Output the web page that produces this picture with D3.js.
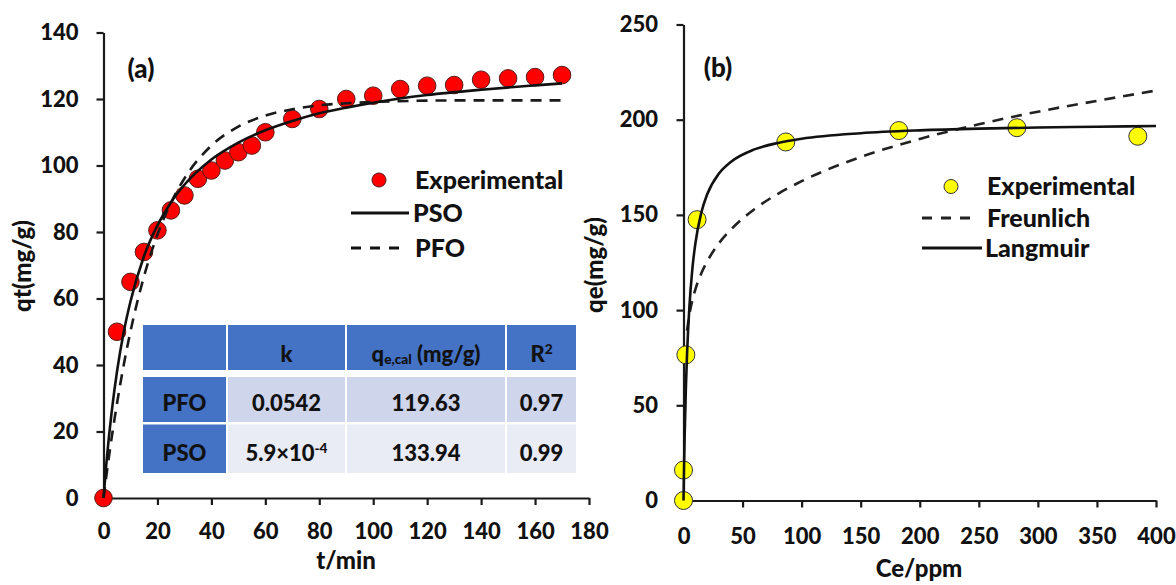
<!DOCTYPE html>
<html>
<head>
<meta charset="utf-8">
<script src="https://cdn.jsdelivr.net/npm/d3@7"></script>
<style>
  body { margin: 0; background: #fff; }
  svg { display: block; font-family: Lato, "Open Sans", sans-serif; font-weight: 900; }
  .axis path, .axis line { stroke: #1a1a1a; stroke-width: 2.2; }
  .axis text { font-family: Lato, sans-serif; font-size: 22px; font-weight: 900; fill: #111; }
</style>
</head>
<body>
<svg id="chart"></svg>
<script>
const width = 1176, height = 585;

// ---- panel (a): kinetics ----
const timeMin = [0, 5, 10, 15, 20, 25, 30, 35, 40, 45, 50, 55, 60, 70, 80, 90, 100, 110, 120, 130, 140, 150, 160, 170];
const qtExp = [0, 50, 65, 74, 80.5, 86.5, 91, 96, 98.5, 101.5, 104, 106, 110, 114, 117, 120, 121, 123, 124, 124.2, 125.8, 126.2, 126.6, 127.2];

const fitTime = [0, 1, 2, 3, 4, 5, 7.5, 10, 15, 20, 25, 30, 40, 50, 60, 70, 80, 90, 100, 120, 140, 160, 170];
const qtPSO = [0, 9.8, 18.3, 25.7, 32.2, 38.0, 49.9, 59.1, 72.7, 82.0, 88.9, 94.2, 101.8, 106.9, 110.6, 113.4, 115.7, 117.4, 118.9, 121.2, 122.8, 124.1, 124.7];
const qtPFO = [0, 6.3, 12.3, 18.0, 23.3, 28.4, 40.0, 50.1, 66.6, 79.2, 88.8, 96.1, 106.0, 111.7, 115.0, 116.9, 118.1, 118.7, 119.1, 119.5, 119.6, 119.6, 119.6];

const tTicks = [0, 20, 40, 60, 80, 100, 120, 140, 160, 180];
const qtTicks = [0, 20, 40, 60, 80, 100, 120, 140];

const tableHeader = ["", "k", "q_{e,cal} (mg/g)", "R^{2}"];
const tableModels = ["PFO", "PSO"];
const tableK = ["0.0542", "5.9×10^{-4}"];
const tableQe = ["119.63", "133.94"];
const tableR2 = ["0.97", "0.99"];

// ---- panel (b): isotherm ----
const ceExp = [0, 0, 2, 11.5, 86.6, 182.3, 282.2, 384.6];
const qeExp = [0, 16, 76.5, 147.5, 188.3, 194.3, 195.8, 191.3];

const ceLang = [0, 0.5, 1, 2, 3, 4, 5, 7.5, 10, 15, 20, 30, 40, 60, 80, 100, 150, 200, 250, 300, 350, 400];
const qeLang = [0, 18.9, 34.5, 58.9, 76.9, 90.8, 101.9, 121.7, 134.8, 151.0, 160.7, 171.7, 177.8, 184.4, 187.8, 190.0, 192.9, 194.4, 195.3, 195.9, 196.3, 196.7];

const ceFreund = [3, 5, 7.5, 10, 15, 20, 30, 40, 60, 80, 100, 150, 200, 250, 300, 350, 400];
const qeFreund = [89.2, 97.8, 105.2, 110.8, 119.2, 125.5, 135.1, 142.2, 153.0, 161.1, 167.7, 180.4, 189.9, 197.6, 204.2, 209.9, 215.3];

const ceTicks = [0, 50, 100, 150, 200, 250, 300, 350, 400];
const qeTicks = [0, 50, 100, 150, 200, 250];

const DASH = "11,8";

const svg = d3.select("#chart")
    .attr("width", width)
    .attr("height", height)
    .attr("viewBox", [0, 0, width, height]);

function drawAxes(x, y, xTicks, yTicks, xPad, yPad) {
    svg.append("g")
        .attr("class", "axis")
        .attr("transform", `translate(0,${y(0)})`)
        .call(d3.axisBottom(x).tickValues(xTicks).tickSize(7).tickSizeOuter(0).tickPadding(xPad))
        .call(g => g.attr("font-size", null).attr("font-family", null));

    svg.append("g")
        .attr("class", "axis")
        .attr("transform", `translate(${x(0)},0)`)
        .call(d3.axisLeft(y).tickValues(yTicks).tickSize(7).tickSizeOuter(0).tickPadding(yPad))
        .call(g => g.attr("font-size", null).attr("font-family", null));
}

function label(txt, x, y, size, rotate) {
    svg.append("text")
        .attr("transform", `translate(${x},${y})` + (rotate ? " rotate(-90)" : ""))
        .attr("text-anchor", "middle")
        .attr("font-size", size)
        .attr("fill", "#111")
        .text(txt);
}

// rich text with _{sub} and ^{sup}
function richText(sel, str, size) {
    const parts = str.split(/([_^]\{[^}]*\})/).filter(s => s.length);
    parts.forEach(p => {
        if (p[0] === "_" || p[0] === "^") {
            const sub = p[0] === "_";
            sel.append("tspan")
                .attr("font-size", size * 0.62)
                .attr("baseline-shift", sub ? "-12%" : "55%")
                .text(p.slice(2, -1));
        } else {
            sel.append("tspan").text(p);
        }
    });
}

const line = (x, y) => d3.line().x(d => x(d[0])).y(d => y(d[1])).curve(d3.curveMonotoneX);

// ================= panel (a) =================
const xA = d3.scaleLinear().domain([0, 180]).range([103.5, 589]);
const yA = d3.scaleLinear().domain([0, 140]).range([498, 32.5]);

drawAxes(xA, yA, tTicks, qtTicks, 18, 18);

// table
const colEdges = [143, 227, 346, 506, 577];
const rows = [
    {y: 325, h: 45, base: 37, fill: "#4472C4"},
    {y: 377, h: 45, base: 33.5, fill: "#CFD5EA"},
    {y: 424.5, h: 48.5, base: 36, fill: "#E9EBF5"}
];
const tableCells = [
    tableHeader,
    [tableModels[0], tableK[0], tableQe[0], tableR2[0]],
    [tableModels[1], tableK[1], tableQe[1], tableR2[1]]
];
const tbl = svg.append("g");
rows.forEach((r, ri) => {
    tableCells[ri].forEach((txt, ci) => {
        const x0 = colEdges[ci] + (ci ? 1 : 0), x1 = colEdges[ci + 1] - 1;
        tbl.append("rect")
            .attr("x", x0).attr("y", r.y)
            .attr("width", x1 - x0).attr("height", r.h)
            .attr("fill", ci === 0 || ri === 0 ? "#4472C4" : r.fill);
        const t = tbl.append("text")
            .attr("x", (x0 + x1) / 2)
            .attr("y", r.y + r.base)
            .attr("text-anchor", "middle")
            .attr("font-size", 22)
            .attr("fill", "#111");
        richText(t, txt, 22);
    });
});

const gA = svg.append("g");
gA.selectAll("circle")
    .data(d3.zip(timeMin, qtExp))
    .join("circle")
    .attr("cx", d => xA(d[0]))
    .attr("cy", d => yA(d[1]))
    .attr("r", 8.8)
    .attr("fill", "#FF0000")
    .attr("stroke", "#5a1a1a")
    .attr("stroke-width", 1);

gA.append("path")
    .attr("d", line(xA, yA)(d3.zip(fitTime, qtPFO)))
    .attr("fill", "none").attr("stroke", "#1a1a1a").attr("stroke-width", 2.6)
    .attr("stroke-dasharray", DASH);
gA.append("path")
    .attr("d", line(xA, yA)(d3.zip(fitTime, qtPSO)))
    .attr("fill", "none").attr("stroke", "#111").attr("stroke-width", 2.6);

label("(a)", 141, 78, 26);
label("t/min", 346, 569, 24);
label("qt(mg/g)", 31, 266, 24, true);

// legend (a)
const legA = svg.append("g").attr("font-size", 25).attr("fill", "#111");
legA.append("circle").attr("cx", 379).attr("cy", 180).attr("r", 7)
    .attr("fill", "#FF0000").attr("stroke", "#5a1a1a");
legA.append("text").attr("x", 415).attr("y", 188.5).text("Experimental");
legA.append("line").attr("x1", 351).attr("x2", 409).attr("y1", 213).attr("y2", 213)
    .attr("stroke", "#111").attr("stroke-width", 2.8);
legA.append("text").attr("x", 413).attr("y", 221.5).text("PSO");
legA.append("line").attr("x1", 351).attr("x2", 405).attr("y1", 248).attr("y2", 248)
    .attr("stroke", "#111").attr("stroke-width", 2.8).attr("stroke-dasharray", "10,9");
legA.append("text").attr("x", 415).attr("y", 256.5).text("PFO");

// ================= panel (b) =================
const xB = d3.scaleLinear().domain([0, 400]).range([683.5, 1156]);
const yB = d3.scaleLinear().domain([0, 250]).range([500.5, 24.5]);

drawAxes(xB, yB, ceTicks, qeTicks, 21, 18.5);

const gB = svg.append("g");
gB.selectAll("circle")
    .data(d3.zip(ceExp, qeExp))
    .join("circle")
    .attr("cx", d => xB(d[0]))
    .attr("cy", d => yB(d[1]))
    .attr("r", 9)
    .attr("fill", "#FFFF00")
    .attr("stroke", "#333")
    .attr("stroke-width", 1);

gB.append("path")
    .attr("d", line(xB, yB)(d3.zip(ceFreund, qeFreund)))
    .attr("fill", "none").attr("stroke", "#222").attr("stroke-width", 2.6)
    .attr("stroke-dasharray", DASH);
gB.append("path")
    .attr("d", line(xB, yB)(d3.zip(ceLang, qeLang)))
    .attr("fill", "none").attr("stroke", "#111").attr("stroke-width", 2.6);

label("(b)", 718, 77, 26);
label("Ce/ppm", 919, 577, 24);
label("qe(mg/g)", 603, 265, 24, true);

// legend (b)
const legB = svg.append("g").attr("font-size", 25).attr("fill", "#111");
legB.append("circle").attr("cx", 951).attr("cy", 186.5).attr("r", 7)
    .attr("fill", "#FFFF00").attr("stroke", "#333");
legB.append("text").attr("x", 987).attr("y", 194.5).text("Experimental");
legB.append("line").attr("x1", 922).attr("x2", 972).attr("y1", 218).attr("y2", 218)
    .attr("stroke", "#222").attr("stroke-width", 2.8).attr("stroke-dasharray", "10,9");
legB.append("text").attr("x", 987).attr("y", 226.5).text("Freunlich");
legB.append("line").attr("x1", 922).attr("x2", 982).attr("y1", 248).attr("y2", 248)
    .attr("stroke", "#111").attr("stroke-width", 2.8);
legB.append("text").attr("x", 985).attr("y", 256.5).text("Langmuir");
</script>
</body>
</html>
